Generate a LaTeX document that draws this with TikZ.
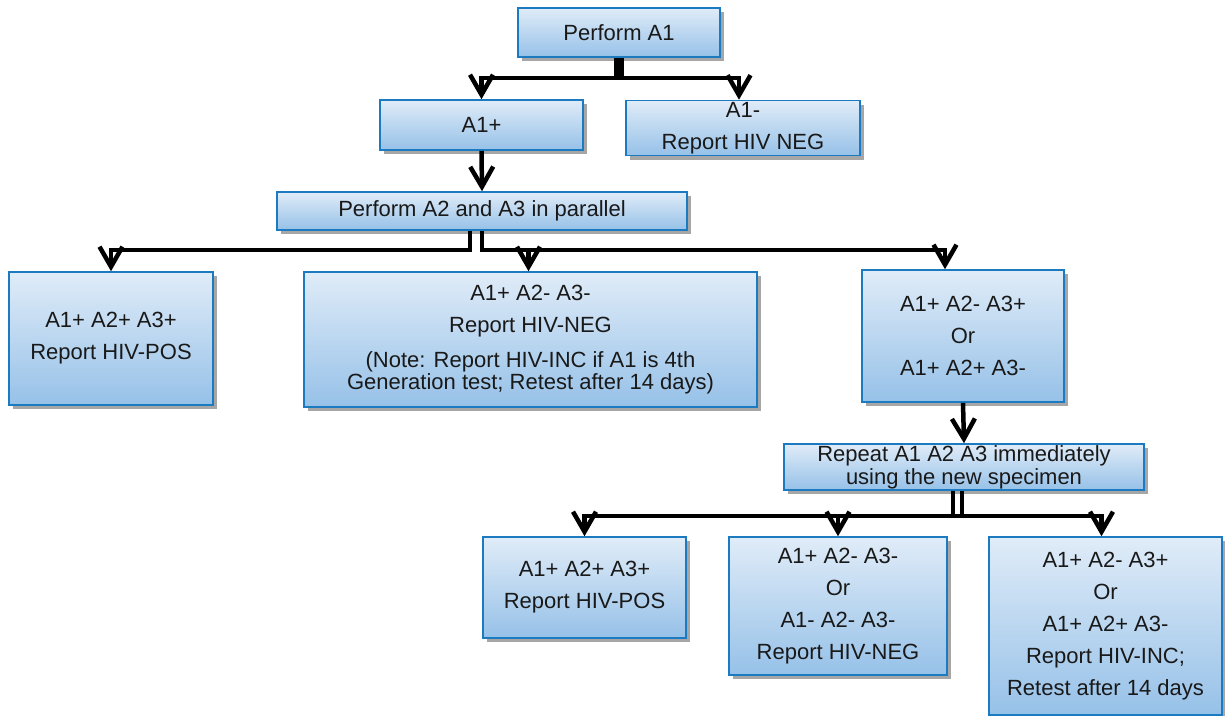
\documentclass[tikz,border=0pt]{standalone}
\usepackage{fontspec}
\setmainfont{Liberation Sans}
\usetikzlibrary{arrows.meta,shadows}
\definecolor{boxedge}{RGB}{28,122,192}
\definecolor{boxtop}{RGB}{224,236,248}
\definecolor{boxbot}{RGB}{150,193,232}
\begin{document}
\begin{tikzpicture}[x=1pt,y=-1pt,
  box/.style={draw=boxedge, line width=1.6pt, top color=boxtop, bottom color=boxbot,
    align=center, inner sep=0pt, text=black!90,
    font=\fontsize{22}{32}\selectfont,
    drop shadow={shadow xshift=4pt, shadow yshift=-4pt, fill=black, opacity=0.35}},
  link/.style={line width=4.5pt, -{Straight Barb[length=20pt,width=23pt,line width=4.5pt]}},
  ]
\useasboundingbox (0,0) rectangle (1225,715);

% first screening assay
\node[box, minimum width=202pt, minimum height=49pt] (pa1) at (619,32.5) {Perform A1};
\node[box, minimum width=203pt, minimum height=50pt] (a1p) at (481.5,125) {A1+};
\node[box, minimum width=234pt, minimum height=55pt] (a1m) at (743,128) {A1-\\Report HIV NEG};

% supplemental assays
\node[box, minimum width=410pt, minimum height=38pt] (pa2) at (482,211) {Perform A2 and A3 in parallel};
\node[box, minimum width=204pt, minimum height=133pt] (lpos) at (111,338.5) {A1+ A2+ A3+\\Report HIV-POS};
\node[box, minimum width=453pt, minimum height=135pt] (mneg) at (530.5,339.5)
  {A1+ A2- A3-\\Report HIV-NEG\\[3pt](Note: Report HIV-INC if A1 is 4th\\[-10pt]Generation test; Retest after 14 days)};
\node[box, minimum width=202pt, minimum height=132pt] (rmix) at (963,336) {A1+ A2- A3+\\Or\\A1+ A2+ A3-};

% repeat testing
\node[box, font=\fontsize{22}{23}\selectfont, minimum width=360pt, minimum height=46pt] (rep) at (964,467)
  {Repeat A1 A2 A3 immediately\\using the new specimen};
\node[box, minimum width=203pt, minimum height=101pt] (b1) at (584.5,587.5) {A1+ A2+ A3+\\Report HIV-POS};
\node[box, minimum width=218pt, minimum height=138pt] (b2) at (838,606) {A1+ A2- A3-\\Or\\A1- A2- A3-\\Report HIV-NEG};
\node[box, minimum width=233pt, minimum height=178pt] (b3) at (1105.5,626)
  {A1+ A2- A3+\\Or\\A1+ A2+ A3-\\Report HIV-INC;\\Retest after 14 days};

% connectors
\draw[link] ([xshift=-2.5pt]pa1.south) -- ++(0,20) -| (a1p.north);
\draw[link] ([xshift=2.5pt]pa1.south) -- ++(0,20) -| ([xshift=-4pt]a1m.north);
\draw[link] (a1p.south) -- (pa2.north);
\draw[link] ([xshift=-12pt]pa2.south) -- ++(0,19) -| (lpos.north);
\draw[link] (pa2.south) -- ++(0,19) -| ([xshift=-2pt]mneg.north);
\draw[link] (pa2.south) -- ++(0,19) -| ([xshift=-18pt]rmix.north);
\draw[link] (rmix.south) -- (rep.north);
\draw[link] ([xshift=-11pt]rep.south) -- ++(0,25) -| (b1.north);
\draw[link] ([xshift=-2pt]rep.south) -- ++(0,25) -| (b2.north);
\draw[link] ([xshift=-2pt]rep.south) -- ++(0,25) -| ([xshift=-4pt]b3.north);
\end{tikzpicture}
\end{document}
